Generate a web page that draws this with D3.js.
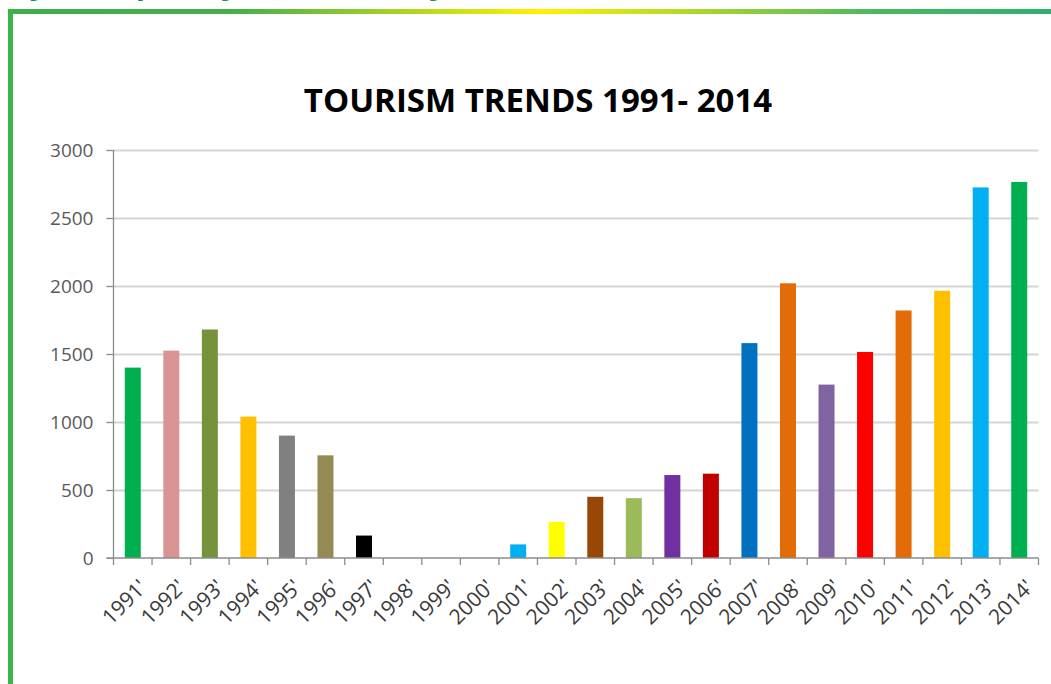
<!DOCTYPE html>
<html>
<head>
<meta charset="utf-8">
<script src="https://cdn.jsdelivr.net/npm/d3@7"></script>
<style>
  html, body { margin: 0; padding: 0; background: #fff; }
  svg { display: block; }
</style>
</head>
<body>
<svg id="chart" width="1051" height="684"></svg>
<script>
// Tourist arrivals per year
const years = ["1991'", "1992'", "1993'", "1994'", "1995'", "1996'", "1997'", "1998'",
  "1999'", "2000'", "2001'", "2002'", "2003'", "2004'", "2005'", "2006'", "2007'",
  "2008'", "2009'", "2010'", "2011'", "2012'", "2013'", "2014'"];
const arrivals = [1400, 1525, 1680, 1040, 900, 755, 165, 0, 0, 0, 100, 265, 450, 440,
  610, 620, 1580, 2020, 1275, 1515, 1820, 1965, 2725, 2765];
const barColors = ["#00b050", "#d99594", "#76923c", "#ffc000", "#808080", "#948a54",
  "#000000", "#000000", "#000000", "#000000", "#00b0f0", "#ffff00", "#984806", "#9bbb59",
  "#7030a0", "#c00000", "#0070c0", "#e36c09", "#8064a2", "#ff0000", "#e36c09", "#ffc000",
  "#00b0f0", "#00b050"];
const yTicks = [0, 500, 1000, 1500, 2000, 2500, 3000];
const chartTitle = "TOURISM TRENDS 1991- 2014";
const caption = "Figure 4.2: Graph showing tourist arrivals in the region";

const svg = d3.select("#chart");
const font = "'Open Sans', 'DejaVu Sans', sans-serif";

// Page frame: caption above, gradient rule on top, green rule on the left
const defs = svg.append("defs");
const grad = defs.append("linearGradient").attr("id", "ruleGrad")
  .attr("x1", "0%").attr("x2", "100%").attr("y1", "0%").attr("y2", "0%");
[["0%", "#3dae4a"], ["22%", "#46b04a"], ["51%", "#fff200"], ["83%", "#4cb85f"], ["100%", "#2fb06e"]]
  .forEach(([o, c]) => grad.append("stop").attr("offset", o).attr("stop-color", c));

svg.append("text")
  .attr("x", 12).attr("y", -3)
  .attr("font-family", "'Liberation Serif', serif")
  .attr("font-weight", "bold")
  .attr("font-size", 19)
  .attr("fill", "#1a8a3c")
  .text(caption);

svg.append("rect").attr("x", 8).attr("y", 9).attr("width", 1043).attr("height", 5)
  .attr("fill", "url(#ruleGrad)");
svg.append("rect").attr("x", 8).attr("y", 9).attr("width", 5).attr("height", 675)
  .attr("fill", "#3cb44a");

// Plot area
const plotLeft = 113.5, plotRight = 1038.5, plotTop = 150, plotBottom = 558;

const x = d3.scaleBand().domain(years).range([plotLeft, plotRight]).paddingInner(0.585).paddingOuter(0.2925);
const xEdges = d3.scaleBand().domain(years).range([plotLeft, plotRight]).padding(0);
const y = d3.scaleLinear().domain([0, 3000]).range([plotBottom, plotTop]);

// Horizontal gridlines with short ticks left of the value axis
svg.append("g").attr("transform", `translate(${plotLeft},0)`)
  .call(d3.axisLeft(y).tickValues(yTicks.filter(v => v > 0)).tickSize(-(plotRight - plotLeft)).tickFormat(""))
  .call(g => g.select(".domain").remove())
  .call(g => g.selectAll(".tick line").attr("stroke", "#d4d4d4").attr("stroke-width", 2)
    .attr("x1", -7));

// Bars
svg.append("g").selectAll("rect")
  .data(years.map((yr, i) => ({ yr, v: arrivals[i], c: barColors[i] })))
  .join("rect")
  .attr("x", d => x(d.yr))
  .attr("width", x.bandwidth())
  .attr("y", d => y(d.v))
  .attr("height", d => plotBottom - y(d.v))
  .attr("fill", d => d.c);

// Value axis
const yAxis = svg.append("g").attr("transform", `translate(${plotLeft},0)`)
  .call(d3.axisLeft(y).tickValues(yTicks).tickSize(7).tickPadding(13).tickFormat(d3.format("d")));
yAxis.select(".domain").attr("stroke", "#8c8c8c").attr("stroke-width", 1.3)
  .attr("d", `M0,${plotTop}V${plotBottom}`);
yAxis.selectAll(".tick line").attr("stroke", "#8c8c8c");
yAxis.selectAll(".tick text")
  .attr("font-family", font).attr("font-size", 19).attr("fill", "#595959");

// Category axis: baseline with ticks at band edges
const xAxis = svg.append("g").attr("transform", `translate(0,${plotBottom})`);
xAxis.append("line").attr("x1", plotLeft - 7).attr("x2", plotRight).attr("y1", 0).attr("y2", 0)
  .attr("stroke", "#8c8c8c").attr("stroke-width", 1.3);
xAxis.selectAll("line.tk")
  .data(years.concat(["end"]))
  .join("line").attr("class", "tk")
  .attr("x1", (d, i) => plotLeft + i * xEdges.step())
  .attr("x2", (d, i) => plotLeft + i * xEdges.step())
  .attr("y1", 0).attr("y2", 7)
  .attr("stroke", "#8c8c8c").attr("stroke-width", 1.3);
xAxis.selectAll("text")
  .data(years)
  .join("text")
  .attr("transform", d => `translate(${x(d) + x.bandwidth() / 2 + 5},${20}) rotate(-45)`)
  .attr("text-anchor", "end")
  .attr("dy", "0.71em")
  .attr("font-family", font).attr("font-size", 21).attr("fill", "#3a3a3a")
  .text(d => d);

// Title
svg.append("text")
  .attr("x", 538).attr("y", 112)
  .attr("text-anchor", "middle")
  .attr("font-family", font).attr("font-weight", "bold").attr("font-size", 33)
  .attr("fill", "#000")
  .text(chartTitle);
</script>
</body>
</html>
